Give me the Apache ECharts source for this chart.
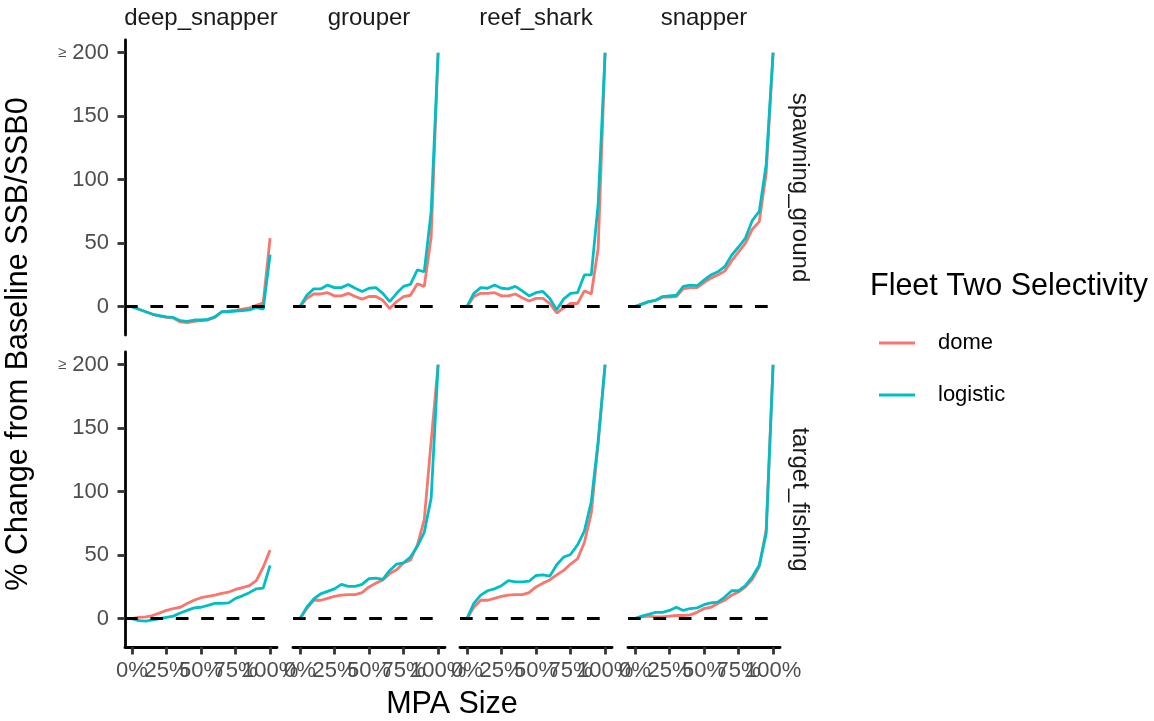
<!DOCTYPE html>
<html>
<head>
<meta charset="utf-8">
<script src="https://cdn.jsdelivr.net/npm/echarts@6/dist/echarts.min.js"></script>
<style>
  html, body { margin: 0; padding: 0; background: #fff; }
  #chart { width: 1154px; height: 721px; }
</style>
</head>
<body>
<div id="chart"></div>
<script>
// MPA size (fraction protected)
var mpaSize = [0, 0.05, 0.1, 0.15, 0.2, 0.25, 0.3, 0.35, 0.4, 0.45, 0.5, 0.55, 0.6, 0.65, 0.7, 0.75, 0.8, 0.85, 0.9, 0.95, 1];
var speciesNames = ['deep_snapper', 'grouper', 'reef_shark', 'snapper'];
var scenarioNames = ['spawning_ground', 'target_fishing'];
var yTicks = [0, 50, 100, 150, 200];
var xTicks = [0, 0.25, 0.5, 0.75, 1];

// spawning_ground
var spawnDeepSnapperDome = [0, -2, -4, -6, -7.5, -8.5, -9, -12, -12.5, -11.5, -11, -10.5, -8.5, -4, -3.5, -3, -2, -1, 1, 3, 54];
var spawnDeepSnapperLogistic = [0, -2, -4, -6, -7, -8, -8.5, -11, -11.5, -10.5, -10.5, -10, -8, -4, -4, -3.5, -3, -2.5, -0.5, -2, 41];
var spawnGrouperDome = [0, 6.5, 10, 10, 11, 8.5, 8.5, 10.5, 8, 6, 8, 8, 5, -1.5, 4, 8, 9, 18, 16, 55, 200];
var spawnGrouperLogistic = [0, 9, 14, 14, 17, 15, 15, 17.5, 14.5, 12, 14.5, 15, 10.5, 4, 10.5, 16, 17.5, 29, 27.5, 75, 200];
var spawnReefSharkDome = [0, 8, 10.5, 10.5, 11, 8.5, 8.5, 10, 7, 4.5, 6.5, 6.5, 2.5, -5, -1, 2.5, 2.5, 12.5, 10, 46, 200];
var spawnReefSharkLogistic = [0, 10.5, 15, 14.5, 17, 14.5, 14, 16, 12.5, 8.5, 11, 12, 6.5, -2.5, 6, 10.5, 11, 25, 25, 81, 200];
var spawnSnapperDome = [0, 2, 4, 5, 7.5, 7.5, 8, 14, 15, 15, 19, 22.5, 25, 28, 36, 43, 50, 61, 67, 105, 200];
var spawnSnapperLogistic = [0, 2, 4, 5, 8, 8.5, 9, 16, 17, 16.5, 21, 25, 27.5, 31.5, 40.5, 47, 54, 68, 75, 112, 200];

// target_fishing
var targetDeepSnapperDome = [0, 1, 1.5, 2.5, 4.5, 6.5, 8, 9, 12, 14.5, 16.5, 17.5, 18.5, 20, 21, 23, 24.5, 26, 30, 40.5, 54];
var targetDeepSnapperLogistic = [0, -1.5, -2, -1, 0, 1, 2, 4.5, 6.5, 8.5, 9, 10.5, 12, 12, 12.5, 16, 18, 20.5, 23.5, 24, 42];
var targetGrouperDome = [0, 8, 14.5, 14.5, 16, 17.5, 18.5, 19, 19, 20.5, 25, 28, 30.5, 35.5, 38.5, 44, 46, 58, 78, 140, 200];
var targetGrouperLogistic = [0, 9, 15.5, 19.5, 21.5, 23.5, 27, 25.5, 25.5, 27, 31.5, 32, 31, 38, 43, 44, 48.5, 57, 68, 95, 200];
var targetReefSharkDome = [0, 9, 14.5, 14.5, 16, 17.5, 18.5, 19, 19, 20.5, 25, 28, 30.5, 34.5, 38, 43, 47, 60, 83, 138, 200];
var targetReefSharkLogistic = [0, 12, 18.5, 22, 23.5, 26, 30, 29, 29, 29.5, 34, 34.5, 33.5, 42.5, 48.5, 50.5, 58, 69, 92, 140, 200];
var targetSnapperDome = [0, 1.5, 2, 1.5, 1.5, 2, 2.5, 2.5, 3, 5, 8, 9, 12, 14.5, 18.5, 21, 25, 31, 41, 70, 200];
var targetSnapperLogistic = [0, 2, 3.5, 5, 5, 6.5, 9, 6.5, 8, 8.5, 11, 12.5, 13, 17, 22, 22, 26, 33, 42, 67, 200];

// panel lookup [row][col] -> [dome, logistic]
var panelData = [
    [[spawnDeepSnapperDome, spawnDeepSnapperLogistic], [spawnGrouperDome, spawnGrouperLogistic],
     [spawnReefSharkDome, spawnReefSharkLogistic], [spawnSnapperDome, spawnSnapperLogistic]],
    [[targetDeepSnapperDome, targetDeepSnapperLogistic], [targetGrouperDome, targetGrouperLogistic],
     [targetReefSharkDome, targetReefSharkLogistic], [targetSnapperDome, targetSnapperLogistic]]
];

var colDome = '#F8766D';
var colLogistic = '#00BFC4';
var fontFam = '"Liberation Sans", Arial, Helvetica, sans-serif';
var lineW = 2.8;

var colLefts = [125, 293, 460, 628];
var rowTops = [40, 352];
var panelW = 152;
var panelH = 295;

// the tick labels overlap in the original; split them over two axes so echarts keeps all
var xLabelsA = xTicks.filter(function (v, i) { return i % 2 === 0; });
var xLabelsB = xTicks.filter(function (v, i) { return i % 2 === 1; });

function pairs(ys) {
    var out = [];
    for (var i = 0; i < mpaSize.length; i++) out.push([mpaSize[i], ys[i]]);
    return out;
}

function pctLabel(v) { return Math.round(v * 100) + '%'; }

var grids = [], xAxes = [], yAxes = [], series = [];
var idx = 0;
for (var r = 0; r < 2; r++) {
    for (var c = 0; c < 4; c++) {
        grids.push({left: colLefts[c], top: rowTops[r], width: panelW, height: panelH});
        var showX = (r === 1);
        var showY = (c === 0);
        xAxes.push({
            type: 'value', gridIndex: idx, min: -0.05, max: 1.05, position: 'bottom',
            show: showX,
            splitLine: {show: false},
            axisLine: {show: true, onZero: false, lineStyle: {color: '#000', width: lineW}},
            axisTick: {show: true, length: 7.5, customValues: xTicks, lineStyle: {color: '#333', width: lineW}},
            axisLabel: {
                show: true, customValues: xLabelsA, margin: 13,
                color: '#4D4D4D', fontSize: 22, fontFamily: fontFam, formatter: pctLabel
            }
        });
        yAxes.push({
            type: 'value', gridIndex: idx, min: -22.3, max: 210,
            show: showY,
            splitLine: {show: false},
            axisLine: {show: true, onZero: false, lineStyle: {color: '#000', width: lineW}},
            axisTick: {show: true, length: 7.5, customValues: yTicks, lineStyle: {color: '#333', width: lineW}},
            axisLabel: {
                show: true, customValues: yTicks, margin: 16,
                color: '#4D4D4D', fontSize: 22, fontFamily: fontFam,
                formatter: function (v) { return v === 200 ? '{s|≥} 200' : String(v); },
                rich: {s: {fontSize: 15, color: '#4D4D4D', fontFamily: fontFam}}
            }
        });
        var d = panelData[r][c];
        series.push({
            name: 'dome', type: 'line', xAxisIndex: idx, yAxisIndex: idx,
            data: pairs(d[0]), symbol: 'none', z: 2,
            lineStyle: {color: colDome, width: lineW}, itemStyle: {color: colDome},
            markLine: {
                silent: true, symbol: ['none', 'none'], label: {show: false},
                lineStyle: {color: '#000', width: lineW, type: [12.7, 12.7]},
                data: [{yAxis: 0}]
            }
        });
        series.push({
            name: 'logistic', type: 'line', xAxisIndex: idx, yAxisIndex: idx,
            data: pairs(d[1]), symbol: 'none', z: 3,
            lineStyle: {color: colLogistic, width: lineW}, itemStyle: {color: colLogistic}
        });
        idx++;
    }
}
// second label layer for the bottom row (25%, 75%)
for (var c3 = 0; c3 < 4; c3++) {
    xAxes.push({
        type: 'value', gridIndex: 4 + c3, min: -0.05, max: 1.05, position: 'bottom', offset: 0,
        splitLine: {show: false},
        axisLine: {show: false, onZero: false},
        axisTick: {show: false},
        axisLabel: {
            show: true, customValues: xLabelsB, margin: 13,
            color: '#4D4D4D', fontSize: 22, fontFamily: fontFam, formatter: pctLabel
        }
    });
}

var graphics = [];
// column strips
for (var c2 = 0; c2 < 4; c2++) {
    graphics.push({
        type: 'text', x: colLefts[c2] + panelW / 2, y: 18,
        style: {text: speciesNames[c2], fill: '#1A1A1A', font: '24px ' + fontFam, align: 'center', verticalAlign: 'middle'}
    });
}
// row strips
for (var r2 = 0; r2 < 2; r2++) {
    graphics.push({
        type: 'text', x: 800, y: rowTops[r2] + panelH / 2, rotation: -Math.PI / 2,
        style: {text: scenarioNames[r2], fill: '#1A1A1A', font: '24px ' + fontFam, align: 'center', verticalAlign: 'middle'}
    });
}
// axis titles
graphics.push({
    type: 'text', x: 19, y: 344, rotation: Math.PI / 2,
    style: {text: '% Change from Baseline SSB/SSB0', fill: '#000', font: '30.5px ' + fontFam, align: 'center', verticalAlign: 'middle'}
});
graphics.push({
    type: 'text', x: 452, y: 705,
    style: {text: 'MPA Size', fill: '#000', font: '30.5px ' + fontFam, align: 'center', verticalAlign: 'middle'}
});
// legend title
graphics.push({
    type: 'text', x: 870, y: 287,
    style: {text: 'Fleet Two Selectivity', fill: '#000', font: '30.5px ' + fontFam, align: 'left', verticalAlign: 'middle'}
});

var chart = echarts.init(document.getElementById('chart'), null, {renderer: 'canvas'});
chart.setOption({
    animation: false,
    backgroundColor: '#fff',
    grid: grids,
    xAxis: xAxes,
    yAxis: yAxes,
    series: series,
    legend: {
        data: ['dome', 'logistic'],
        orient: 'vertical', left: 874, top: 327,
        icon: 'rect',
        itemWidth: 36, itemHeight: 3, itemGap: 30,
        textStyle: {fontSize: 22, lineHeight: 22, color: '#000', fontFamily: fontFam, padding: [0, 0, 0, 18]}
    },
    graphic: graphics
});
</script>
</body>
</html>
